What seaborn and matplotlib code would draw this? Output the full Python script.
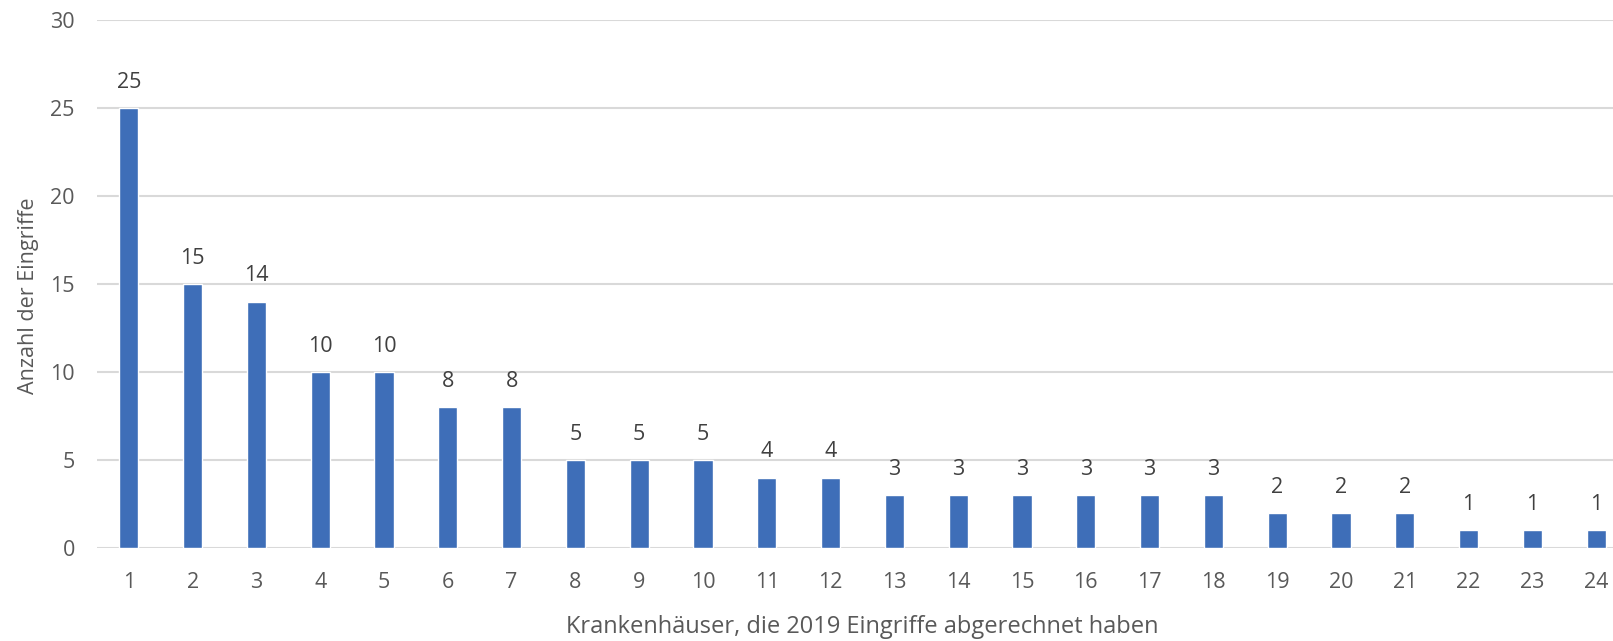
import matplotlib
matplotlib.use("Agg")
import matplotlib.pyplot as plt
import seaborn as sns
import pandas as pd

# Krankenhaeuser 1..24 und Anzahl der Eingriffe
krankenhaus = [str(i) for i in range(1, 25)]
eingriffe = [25, 15, 14, 10, 10, 8, 8, 5, 5, 5, 4, 4, 3, 3, 3, 3, 3, 3, 2, 2, 2, 1, 1, 1]

df = pd.DataFrame({"haus": krankenhaus, "anzahl": eingriffe})

sns.set_style("white")
plt.rcParams["font.family"] = ["Open Sans", "DejaVu Sans"]
grau = "#595959"

fig = plt.figure(figsize=(16.13, 6.41), dpi=100)
W, H = 1613, 641
ax = fig.add_axes([97 / W, 1 - 548 / H, 1531 / W, 528 / H])

sns.barplot(data=df, x="haus", y="anzahl", color="#3E6EB8", saturation=1,
            width=0.3, ax=ax)

ax.set_ylim(0, 30)
ax.set_xlim(-0.5, 23.5)
ax.set_yticks(range(0, 31, 5))
ax.yaxis.grid(True, color="#D9D9D9", linewidth=1.5)
ax.set_axisbelow(True)
for s in ax.spines.values():
    s.set_visible(False)
ax.tick_params(axis="both", length=0, labelsize=15.5, labelcolor=grau)
ax.tick_params(axis="x", pad=17)
ax.tick_params(axis="y", pad=16)

ax.bar_label(ax.containers[0], padding=11, fontsize=15.5, color="#404040")

ax.set_xlabel("Krankenhäuser, die 2019 Eingriffe abgerechnet haben",
              fontsize=17, color=grau)
ax.xaxis.set_label_coords(0.5, -0.15)
ax.xaxis.label.set_va("center")
ax.set_ylabel("Anzahl der Eingriffe", fontsize=15.5, color=grau)
ax.yaxis.set_label_coords(-0.038, 0.477)

fig.savefig("out.png", dpi=100)
